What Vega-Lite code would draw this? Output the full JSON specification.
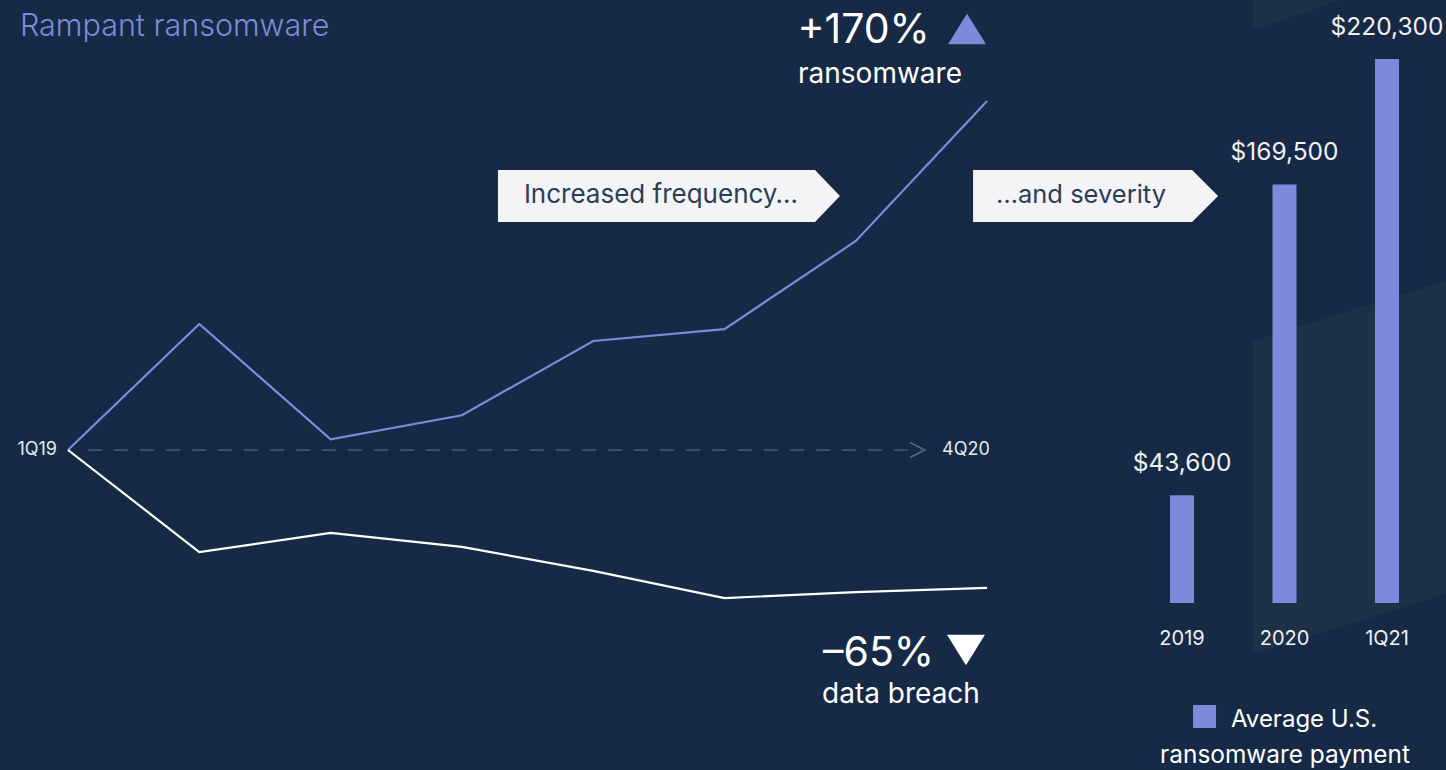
{
  "$schema": "https://vega.github.io/schema/vega-lite/v6.json",
  "width": 1446,
  "height": 770,
  "padding": 0,
  "autosize": {"type": "none"},
  "background": "#172a45",
  "config": {
    "view": {"stroke": null},
    "axis": {"disable": true},
    "font": "Inter",
    "text": {"font": "Inter"}
  },
  "datasets": {
    "trend": [
      {"q": 0, "quarter": "1Q19", "series": "ransomware", "change": 0},
      {"q": 1, "quarter": "2Q19", "series": "ransomware", "change": 61.4},
      {"q": 2, "quarter": "3Q19", "series": "ransomware", "change": 5.2},
      {"q": 3, "quarter": "4Q19", "series": "ransomware", "change": 16.9},
      {"q": 4, "quarter": "1Q20", "series": "ransomware", "change": 53.1},
      {"q": 5, "quarter": "2Q20", "series": "ransomware", "change": 58.9},
      {"q": 6, "quarter": "3Q20", "series": "ransomware", "change": 101.8},
      {"q": 7, "quarter": "4Q20", "series": "ransomware", "change": 170},
      {"q": 0, "quarter": "1Q19", "series": "data breach", "change": 0},
      {"q": 1, "quarter": "2Q19", "series": "data breach", "change": -49.7},
      {"q": 2, "quarter": "3Q19", "series": "data breach", "change": -40.4},
      {"q": 3, "quarter": "4Q19", "series": "data breach", "change": -47.2},
      {"q": 4, "quarter": "1Q20", "series": "data breach", "change": -58.9},
      {"q": 5, "quarter": "2Q20", "series": "data breach", "change": -72.1},
      {"q": 6, "quarter": "3Q20", "series": "data breach", "change": -69.2},
      {"q": 7, "quarter": "4Q20", "series": "data breach", "change": -67.2}
    ],
    "payments": [
      {"period": "2019", "payment": 43600},
      {"period": "2020", "payment": 169500},
      {"period": "1Q21", "payment": 220300}
    ],
    "one": [{}]
  },
  "resolve": {"scale": {"x": "independent", "y": "independent"}},
  "layer": [
    {
      "layer": [
        {
          "data": {"name": "one"},
          "mark": {"type": "point", "shape": "M-0.4825,-0.6325L0.4825,-0.9325L0.4825,0.6325L-0.4825,0.9325Z", "filled": true, "fill": "#1d3149", "opacity": 1, "strokeWidth": 0, "size": 160000},
          "encoding": {
            "x": {"datum": 9.76, "type": "quantitative", "scale": {"domain": [-0.518, 10.495], "nice": false, "zero": false}},
            "y": {"datum": -8.52, "type": "quantitative", "scale": {"domain": [-155.87, 219.19], "nice": false, "zero": false}}
          }
        },
        {
          "data": {"name": "one"},
          "mark": {"type": "point", "shape": "M-0.185,-0.15L-0.185,0.1L0.25,-0.05L0.25,-0.15Z", "filled": true, "fill": "#1d3149", "opacity": 1, "strokeWidth": 0, "size": 160000},
          "encoding": {
            "x": {"datum": 9.307, "type": "quantitative", "scale": {"domain": [-0.518, 10.495], "nice": false, "zero": false}},
            "y": {"datum": 214.3, "type": "quantitative", "scale": {"domain": [-155.87, 219.19], "nice": false, "zero": false}}
          }
        },
        {
          "data": {"name": "one"},
          "mark": {"type": "rule", "color": "#4a5b73", "strokeDash": [14, 12], "strokeWidth": 1.5},
          "encoding": {
            "x": {"datum": 0.152, "type": "quantitative", "scale": {"domain": [-0.518, 10.495], "nice": false, "zero": false}},
            "x2": {"datum": 6.497},
            "y": {"datum": 0, "type": "quantitative", "scale": {"domain": [-155.87, 219.19], "nice": false, "zero": false}}
          }
        },
        {
          "data": {"name": "one"},
          "mark": {"type": "point", "shape": "M-1,-0.5L0,0L-1,0.5", "filled": false, "stroke": "#5a6980", "strokeWidth": 1.5, "opacity": 1, "size": 900},
          "encoding": {
            "x": {"datum": 6.527, "type": "quantitative", "scale": {"domain": [-0.518, 10.495], "nice": false, "zero": false}},
            "y": {"datum": 0, "type": "quantitative", "scale": {"domain": [-155.87, 219.19], "nice": false, "zero": false}}
          }
        },
        {
          "data": {"name": "trend"},
          "mark": {"type": "line", "strokeWidth": 2.2},
          "encoding": {
            "x": {"field": "q", "type": "quantitative", "scale": {"domain": [-0.518, 10.495], "nice": false, "zero": false}},
            "y": {"field": "change", "type": "quantitative", "scale": {"domain": [-155.87, 219.19], "nice": false, "zero": false}},
            "color": {"field": "series", "type": "nominal", "scale": {"domain": ["ransomware", "data breach"], "range": ["#7f89db", "#ffffff"]}, "legend": null}
          }
        },
        {
          "data": {"name": "one"},
          "mark": {"type": "text", "text": "Rampant ransomware", "align": "left", "baseline": "alphabetic", "fontSize": 30.5, "fontWeight": 300, "color": "#7f89db"},
          "encoding": {
            "x": {"datum": -0.366, "type": "quantitative", "scale": {"domain": [-0.518, 10.495], "nice": false, "zero": false}},
            "y": {"datum": 201.7, "type": "quantitative", "scale": {"domain": [-155.87, 219.19], "nice": false, "zero": false}}
          }
        },
        {
          "data": {"name": "one"},
          "mark": {"type": "text", "text": "+170%", "align": "left", "baseline": "alphabetic", "fontSize": 41, "color": "#ffffff"},
          "encoding": {
            "x": {"datum": 5.555, "type": "quantitative", "scale": {"domain": [-0.518, 10.495], "nice": false, "zero": false}},
            "y": {"datum": 198.2, "type": "quantitative", "scale": {"domain": [-155.87, 219.19], "nice": false, "zero": false}}
          }
        },
        {
          "data": {"name": "one"},
          "mark": {"type": "point", "shape": "M-1,0.8L0,-0.8L1,0.8Z", "filled": true, "fill": "#7f89db", "opacity": 1, "strokeWidth": 0, "size": 1444},
          "encoding": {
            "x": {"datum": 6.847, "type": "quantitative", "scale": {"domain": [-0.518, 10.495], "nice": false, "zero": false}},
            "y": {"datum": 205.1, "type": "quantitative", "scale": {"domain": [-155.87, 219.19], "nice": false, "zero": false}}
          }
        },
        {
          "data": {"name": "one"},
          "mark": {"type": "text", "text": "ransomware", "align": "left", "baseline": "alphabetic", "fontSize": 28, "color": "#ffffff"},
          "encoding": {
            "x": {"datum": 5.56, "type": "quantitative", "scale": {"domain": [-0.518, 10.495], "nice": false, "zero": false}},
            "y": {"datum": 178.8, "type": "quantitative", "scale": {"domain": [-155.87, 219.19], "nice": false, "zero": false}}
          }
        },
        {
          "data": {"name": "one"},
          "mark": {"type": "text", "text": "–65%", "align": "left", "baseline": "alphabetic", "fontSize": 41, "color": "#ffffff"},
          "encoding": {
            "x": {"datum": 5.75, "type": "quantitative", "scale": {"domain": [-0.518, 10.495], "nice": false, "zero": false}},
            "y": {"datum": -105.2, "type": "quantitative", "scale": {"domain": [-155.87, 219.19], "nice": false, "zero": false}}
          }
        },
        {
          "data": {"name": "one"},
          "mark": {"type": "point", "shape": "M-1,-0.8L0,0.8L1,-0.8Z", "filled": true, "fill": "#ffffff", "opacity": 1, "strokeWidth": 0, "size": 1444},
          "encoding": {
            "x": {"datum": 6.839, "type": "quantitative", "scale": {"domain": [-0.518, 10.495], "nice": false, "zero": false}},
            "y": {"datum": -97.4, "type": "quantitative", "scale": {"domain": [-155.87, 219.19], "nice": false, "zero": false}}
          }
        },
        {
          "data": {"name": "one"},
          "mark": {"type": "text", "text": "data breach", "align": "left", "baseline": "alphabetic", "fontSize": 28, "color": "#ffffff"},
          "encoding": {
            "x": {"datum": 5.743, "type": "quantitative", "scale": {"domain": [-0.518, 10.495], "nice": false, "zero": false}},
            "y": {"datum": -123.2, "type": "quantitative", "scale": {"domain": [-155.87, 219.19], "nice": false, "zero": false}}
          }
        },
        {
          "data": {"name": "one"},
          "mark": {"type": "point", "shape": "M-1,-0.152L0.854,-0.152L1,0L0.854,0.152L-1,0.152Z", "filled": true, "fill": "#f4f4f6", "opacity": 1, "strokeWidth": 0, "size": 116964},
          "encoding": {
            "x": {"datum": 4.577, "type": "quantitative", "scale": {"domain": [-0.518, 10.495], "nice": false, "zero": false}},
            "y": {"datum": 123.7, "type": "quantitative", "scale": {"domain": [-155.87, 219.19], "nice": false, "zero": false}}
          }
        },
        {
          "data": {"name": "one"},
          "mark": {"type": "point", "shape": "M-1,-0.212L0.788,-0.212L1,0L0.788,0.212L-1,0.212Z", "filled": true, "fill": "#f4f4f6", "opacity": 1, "strokeWidth": 0, "size": 60025},
          "encoding": {
            "x": {"datum": 7.826, "type": "quantitative", "scale": {"domain": [-0.518, 10.495], "nice": false, "zero": false}},
            "y": {"datum": 123.7, "type": "quantitative", "scale": {"domain": [-155.87, 219.19], "nice": false, "zero": false}}
          }
        },
        {
          "data": {"name": "one"},
          "mark": {"type": "text", "text": "Increased frequency…", "align": "center", "baseline": "middle", "fontSize": 26, "color": "#2d3d57"},
          "encoding": {
            "x": {"datum": 4.516, "type": "quantitative", "scale": {"domain": [-0.518, 10.495], "nice": false, "zero": false}},
            "y": {"datum": 124.2, "type": "quantitative", "scale": {"domain": [-155.87, 219.19], "nice": false, "zero": false}}
          }
        },
        {
          "data": {"name": "one"},
          "mark": {"type": "text", "text": "…and severity", "align": "center", "baseline": "middle", "fontSize": 25.5, "color": "#2d3d57"},
          "encoding": {
            "x": {"datum": 7.715, "type": "quantitative", "scale": {"domain": [-0.518, 10.495], "nice": false, "zero": false}},
            "y": {"datum": 124.2, "type": "quantitative", "scale": {"domain": [-155.87, 219.19], "nice": false, "zero": false}}
          }
        },
        {
          "data": {"name": "one"},
          "mark": {"type": "text", "text": "1Q19", "align": "right", "baseline": "middle", "fontSize": 18, "color": "#e6e8ef"},
          "encoding": {
            "x": {"datum": -0.084, "type": "quantitative", "scale": {"domain": [-0.518, 10.495], "nice": false, "zero": false}},
            "y": {"datum": 0, "type": "quantitative", "scale": {"domain": [-155.87, 219.19], "nice": false, "zero": false}}
          }
        },
        {
          "data": {"name": "one"},
          "mark": {"type": "text", "text": "4Q20", "align": "left", "baseline": "middle", "fontSize": 18, "color": "#e6e8ef"},
          "encoding": {
            "x": {"datum": 6.657, "type": "quantitative", "scale": {"domain": [-0.518, 10.495], "nice": false, "zero": false}},
            "y": {"datum": 0, "type": "quantitative", "scale": {"domain": [-155.87, 219.19], "nice": false, "zero": false}}
          }
        },
        {
          "data": {"name": "one"},
          "mark": {"type": "point", "shape": "square", "filled": true, "fill": "#7f89db", "opacity": 1, "strokeWidth": 0, "size": 529},
          "encoding": {
            "x": {"datum": 8.656, "type": "quantitative", "scale": {"domain": [-0.518, 10.495], "nice": false, "zero": false}},
            "y": {"datum": -129.8, "type": "quantitative", "scale": {"domain": [-155.87, 219.19], "nice": false, "zero": false}}
          }
        },
        {
          "data": {"name": "one"},
          "mark": {"type": "text", "text": "Average U.S.", "align": "left", "baseline": "alphabetic", "fontSize": 24, "color": "#ffffff"},
          "encoding": {
            "x": {"datum": 8.857, "type": "quantitative", "scale": {"domain": [-0.518, 10.495], "nice": false, "zero": false}},
            "y": {"datum": -134.9, "type": "quantitative", "scale": {"domain": [-155.87, 219.19], "nice": false, "zero": false}}
          }
        },
        {
          "data": {"name": "one"},
          "mark": {"type": "text", "text": "ransomware payment", "align": "center", "baseline": "alphabetic", "fontSize": 24.4, "color": "#ffffff"},
          "encoding": {
            "x": {"datum": 9.269, "type": "quantitative", "scale": {"domain": [-0.518, 10.495], "nice": false, "zero": false}},
            "y": {"datum": -152.5, "type": "quantitative", "scale": {"domain": [-155.87, 219.19], "nice": false, "zero": false}}
          }
        }
      ]
    },
    {
      "data": {"name": "payments"},
      "layer": [
        {
          "mark": {"type": "bar", "width": 24, "color": "#7f89db"},
          "encoding": {
            "x": {"field": "period", "type": "nominal", "sort": null, "scale": {"type": "band", "domain": ["2019", "2020", "1Q21"], "range": [1130.75, 1438.25], "paddingInner": 0, "paddingOuter": 0}},
            "y": {"field": "payment", "type": "quantitative", "scale": {"domain": [-67628, 244188], "nice": false, "zero": false}}
          }
        },
        {
          "mark": {"type": "text", "dy": -24, "baseline": "alphabetic", "align": "center", "fontSize": 24.5, "color": "#f0f0f4"},
          "encoding": {
            "x": {"field": "period", "type": "nominal", "sort": null, "scale": {"type": "band", "domain": ["2019", "2020", "1Q21"], "range": [1130.75, 1438.25], "paddingInner": 0, "paddingOuter": 0}},
            "y": {"field": "payment", "type": "quantitative", "scale": {"domain": [-67628, 244188], "nice": false, "zero": false}},
            "text": {"field": "payment", "type": "quantitative", "format": "$,.0f"}
          }
        },
        {
          "mark": {"type": "text", "dy": 42, "baseline": "alphabetic", "align": "center", "fontSize": 20, "color": "#f0f0f4"},
          "encoding": {
            "x": {"field": "period", "type": "nominal", "sort": null, "scale": {"type": "band", "domain": ["2019", "2020", "1Q21"], "range": [1130.75, 1438.25], "paddingInner": 0, "paddingOuter": 0}},
            "y": {"datum": 0, "type": "quantitative", "scale": {"domain": [-67628, 244188], "nice": false, "zero": false}},
            "text": {"field": "period", "type": "nominal"}
          }
        }
      ]
    }
  ]
}
